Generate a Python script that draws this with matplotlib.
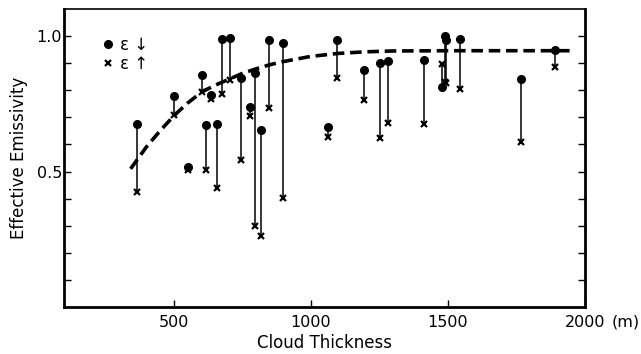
import matplotlib
matplotlib.use("Agg")
import matplotlib.pyplot as plt

# cloud thickness (m), downward and upward effective emissivity
thickness = [367, 503, 551, 603, 618, 635, 658, 677, 707, 744, 777, 796, 819,
             847, 897, 1064, 1094, 1193, 1252, 1281, 1413, 1478, 1490, 1495,
             1545, 1767, 1891]
eps_down = [0.675, 0.778, 0.518, 0.858, 0.671, 0.782, 0.675, 0.99, 0.993,
            0.847, 0.737, 0.865, 0.655, 0.986, 0.974, 0.665, 0.984, 0.876,
            0.902, 0.909, 0.913, 0.813, 1.0, 0.985, 0.988, 0.843, 0.95]
eps_up = [0.424, 0.708, 0.506, 0.794, 0.506, 0.767, 0.439, 0.788, 0.839,
          0.543, 0.706, 0.298, 0.261, 0.733, 0.404, 0.629, 0.847, 0.763,
          0.622, 0.678, 0.675, 0.896, 0.83, 0.825, 0.806, 0.61, 0.886]

# dashed curve
curve_x = [343, 400, 450, 503, 550, 603, 650, 700, 750, 800, 850, 900, 1000,
           1100, 1200, 1300, 1500, 1700, 1945]
curve_y = [0.51, 0.59, 0.65, 0.708, 0.752, 0.794, 0.818, 0.84, 0.862, 0.879,
           0.894, 0.906, 0.925, 0.936, 0.942, 0.945, 0.946, 0.946, 0.946]

fig = plt.figure(figsize=(6.41, 3.54), dpi=100)
ax = fig.add_axes([0.0998, 0.1328, 0.8128, 0.8418])

ax.vlines(thickness, eps_up, eps_down, color="black", lw=1.1)
ax.plot(thickness, eps_down, "o", color="black", ms=5.5, label="ε ↓")
ax.plot(thickness, eps_up, "x", color="black", ms=5, mew=1.6, label="ε ↑")
ax.plot(curve_x, curve_y, color="black", lw=2.6, dashes=(3.2, 1.6))

ax.set_xlim(100, 2000)
ax.set_ylim(0, 1.1)
ax.set_xticks([500, 1000, 1500, 2000])
ax.set_xticklabels(["500", "1000", "1500", "2000"], fontsize=11.5)
ax.set_yticks([0.5, 1.0])
ax.set_yticklabels(["0.5", "1.0"], fontsize=11.5)
ax.set_yticks([0.1, 0.2, 0.3, 0.4, 0.6, 0.7, 0.8, 0.9], minor=True)
ax.tick_params(axis="x", direction="in", length=5, width=1, pad=5.5)
ax.tick_params(axis="y", which="both", direction="in", length=5, width=1,
               right=True, pad=1.5)
ax.annotate("(m)", xy=(2000, 0), xycoords=("data", "axes fraction"),
            xytext=(19, -5.5), textcoords="offset points", fontsize=11.5,
            ha="left", va="top")

for side in ["left", "bottom", "right"]:
    ax.spines[side].set_linewidth(2)
ax.spines["top"].set_linewidth(1.2)

ax.set_xlabel("Cloud Thickness", fontsize=12, labelpad=3)
ax.set_ylabel("Effective Emissivity", fontsize=12)
ax.yaxis.set_label_coords(-0.069, 0.5)

ax.legend(loc="upper left", bbox_to_anchor=(0.04, 0.96), frameon=False,
          fontsize=12, handletextpad=0.2, labelspacing=0.05, handlelength=1)

fig.savefig("out.png", dpi=100)
